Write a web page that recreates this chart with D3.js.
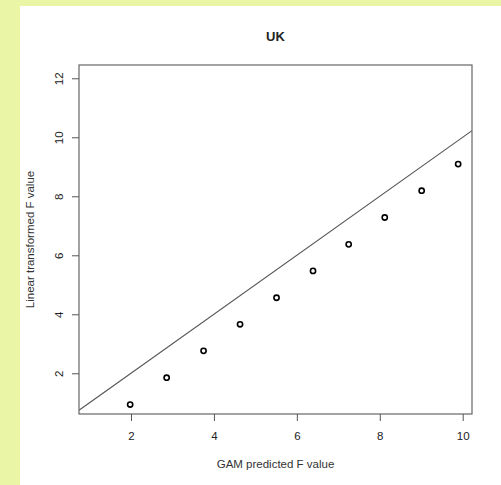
<!DOCTYPE html>
<html><head><meta charset="utf-8">
<script src="https://cdn.jsdelivr.net/npm/d3@7"></script>
<style>
html,body{margin:0;padding:0;background:#eaf5a6;}
svg{display:block;}
text{font-family:"Liberation Sans",Arial,Helvetica,sans-serif;}
</style></head>
<body>
<script>
const title = "UK";
const xLabel = "GAM predicted F value";
const yLabel = "Linear transformed F value";
const gamPredicted = [1.98, 2.86, 3.75, 4.63, 5.51, 6.39, 7.25, 8.12, 9.01, 9.89];
const linearTransformed = [0.94, 1.85, 2.76, 3.66, 4.56, 5.47, 6.37, 7.28, 8.19, 9.09];
const xTicks = [2, 4, 6, 8, 10];
const yTicks = [2, 4, 6, 8, 10, 12];
const xDomain = [0.746, 10.224];
const yDomain = [0.62, 12.45];

const W = 501, H = 485;
const box = {l: 79, r: 472, t: 65, b: 414};
const svg = d3.select("body").append("svg").attr("width", W).attr("height", H);
svg.append("rect").attr("x", 20).attr("y", 6).attr("width", W - 20).attr("height", H - 6).attr("fill", "#ffffff");

const x = d3.scaleLinear().domain(xDomain).range([box.l, box.r]);
const y = d3.scaleLinear().domain(yDomain).range([box.b, box.t]);

svg.append("clipPath").attr("id", "clip").append("rect")
  .attr("x", box.l).attr("y", box.t).attr("width", box.r - box.l).attr("height", box.b - box.t);

// reference line y = x
svg.append("line").attr("clip-path", "url(#clip)")
  .attr("x1", x(xDomain[0])).attr("y1", y(xDomain[0]))
  .attr("x2", x(xDomain[1])).attr("y2", y(xDomain[1]))
  .attr("stroke", "#555").attr("stroke-width", 1.1);

// points
svg.append("g").selectAll("circle").data(gamPredicted).join("circle")
  .attr("cx", d => x(d)).attr("cy", (d, i) => y(linearTransformed[i]))
  .attr("r", 2.6).attr("fill", "none").attr("stroke", "#000").attr("stroke-width", 1.6);

// box
svg.append("rect").attr("x", box.l).attr("y", box.t).attr("width", box.r - box.l).attr("height", box.b - box.t)
  .attr("fill", "none").attr("stroke", "#666").attr("stroke-width", 1.2);

// axes
const xAxis = d3.axisBottom(x).tickValues(xTicks).tickSize(7).tickPadding(11).tickFormat(d3.format("d"));
const gx = svg.append("g").attr("transform", `translate(0,${box.b})`).call(xAxis);
gx.select(".domain").remove();
gx.selectAll("line").attr("stroke", "#555");
gx.selectAll("text").attr("fill", "#222").attr("font-size", 11.5).attr("font-family", "Liberation Sans, Arial, sans-serif");

const yAxis = d3.axisLeft(y).tickValues(yTicks).tickSize(7).tickFormat(d3.format("d"));
const gy = svg.append("g").attr("transform", `translate(${box.l},0)`).call(yAxis);
gy.select(".domain").remove();
gy.selectAll("line").attr("stroke", "#555");
gy.selectAll("text").attr("fill", "#222").attr("font-size", 11.5).attr("font-family", "Liberation Sans, Arial, sans-serif")
  .attr("x", null).attr("dy", null)
  .attr("text-anchor", "middle")
  .attr("transform", "translate(-16,0) rotate(-90)");

// titles
svg.append("text").attr("x", (box.l + box.r) / 2).attr("y", 41).attr("text-anchor", "middle")
  .attr("font-size", 13).attr("font-weight", "bold").attr("fill", "#222").text(title);
svg.append("text").attr("x", (box.l + box.r) / 2).attr("y", 468).attr("text-anchor", "middle")
  .attr("font-size", 11.5).attr("fill", "#333").text(xLabel);
svg.append("text").attr("transform", `translate(34,${(box.t + box.b) / 2}) rotate(-90)`).attr("text-anchor", "middle")
  .attr("font-size", 11.5).attr("fill", "#333").text(yLabel);
</script>
</body></html>
